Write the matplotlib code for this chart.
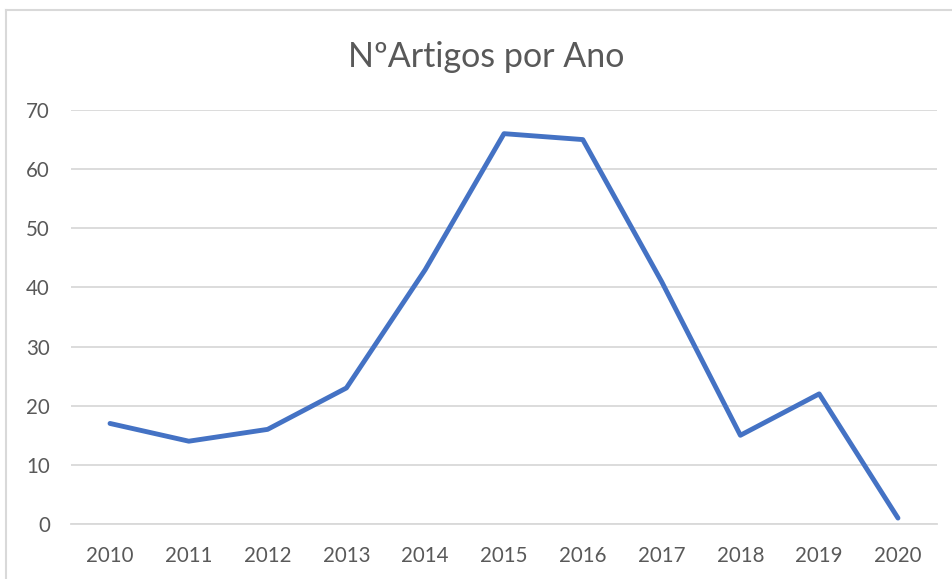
import matplotlib.pyplot as plt
from matplotlib.lines import Line2D

# Numero de artigos por ano
anos = ["2010", "2011", "2012", "2013", "2014", "2015",
        "2016", "2017", "2018", "2019", "2020"]
artigos = [17, 14, 16, 23, 43, 66, 65, 41, 15, 22, 1]

plt.rcParams["font.family"] = ["Lato", "DejaVu Sans"]

fig = plt.figure(figsize=(9.53, 5.79), dpi=100)
ax = fig.add_axes([0.0741, 0.095, 0.9095, 0.715])

x = list(range(len(anos)))
ax.plot(x, artigos, color="#4472C4", linewidth=3.5, solid_capstyle="round",
        solid_joinstyle="round", zorder=3)

ax.set_xlim(-0.5, len(anos) - 0.5)
ax.set_ylim(0, 70)
ax.set_yticks(range(0, 71, 10))
ax.set_xticks(x)
ax.set_xticklabels(anos)

ax.grid(axis="y", color="#d9d9d9", linewidth=1.3)
ax.set_axisbelow(True)
for side in ["top", "right", "left"]:
    ax.spines[side].set_visible(False)
ax.spines["bottom"].set_color("#d9d9d9")
ax.spines["bottom"].set_linewidth(1.3)
ax.tick_params(axis="both", length=0, labelsize=14.8, colors="#595959")
ax.tick_params(axis="y", pad=15)
ax.tick_params(axis="x", pad=16)

fig.text(0.51, 0.902, "NºArtigos por Ano", ha="center", va="center",
         fontsize=24.5, color="#595959")

# moldura do grafico (so esquerda e topo visiveis)
bx, by = 6 / 953, 1 - 10 / 579
fig.add_artist(Line2D([bx, bx], [0, by], color="#d9d9d9", linewidth=1.5))
fig.add_artist(Line2D([bx, 1], [by, by], color="#d9d9d9", linewidth=1.5))

fig.savefig("out.png", dpi=100)
